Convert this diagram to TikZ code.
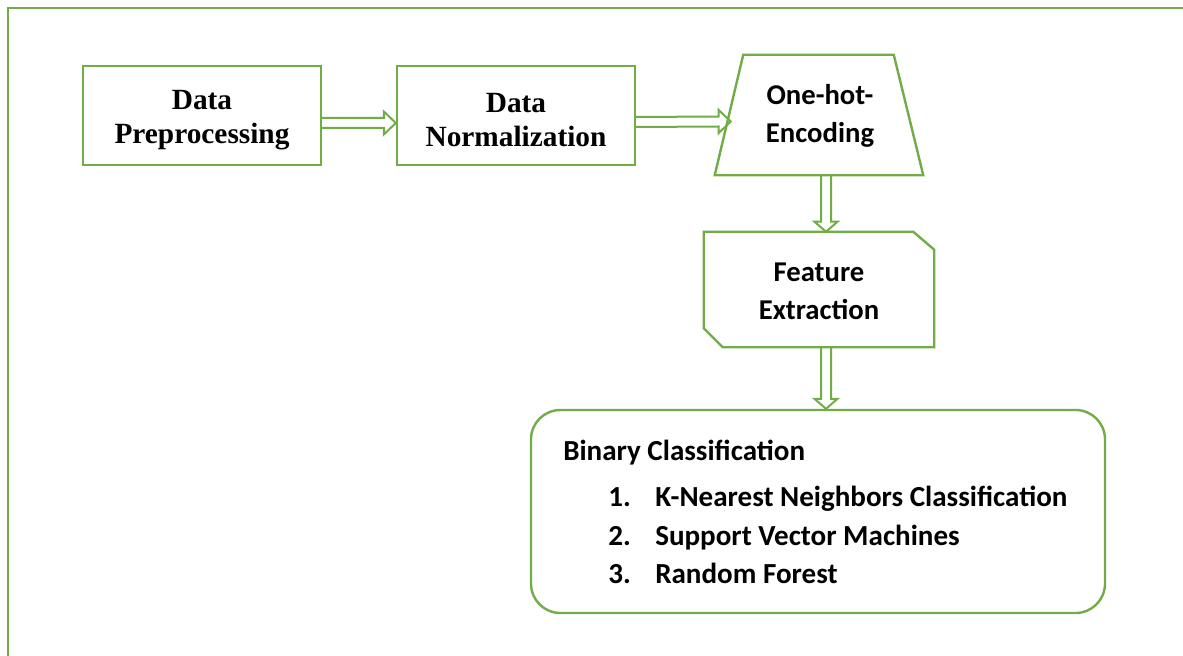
\documentclass[tikz,border=0pt]{standalone}
\usepackage{fontspec}
\setmainfont{Liberation Serif}
\newfontfamily\calib{Carlito}
\usetikzlibrary{calc}
\definecolor{grn}{HTML}{70AD47}
\newcommand\hconn[2]{\draw[conn] ($#1+(0,-5)$) -- ($#2+(-12,-5)$) -- ($#2+(-12,-11.5)$) -- #2 -- ($#2+(-12,11.5)$) -- ($#2+(-12,5)$) -- ($#1+(0,5)$);}
\newcommand\vconn[2]{\draw[conn] ($#1+(-5,0)$) -- ($#2+(-5,-10)$) -- ($#2+(-11.5,-10)$) -- #2 -- ($#2+(11.5,-10)$) -- ($#2+(5,-10)$) -- ($#1+(5,0)$);}
\begin{document}
\begin{tikzpicture}[x=0.75pt,y=-0.75pt,
  frame/.style={draw=grn,line width=1.6pt},
  box/.style={draw=grn,line width=1.8pt,align=center,inner sep=0pt},
  shp/.style={draw=grn,line width=1.8pt,line join=miter},
  conn/.style={draw=grn,line width=1.5pt,line join=miter},
  serif/.style={font=\bfseries\fontsize{22}{25.5}\selectfont},
  cal/.style={font=\calib\bfseries\fontsize{21.5}{28.5}\selectfont,align=center},
  lst/.style={font=\calib\bfseries\fontsize{21.8}{29}\selectfont,anchor=base west,inner sep=0pt}]
\useasboundingbox (0,0) rectangle (1183,656);
\draw[frame] (8,660) -- (8,8) -- (1190,8);
% boxes
\node[box,serif,minimum width=238*0.75pt,minimum height=99*0.75pt] (dp) at (202,115.5) {};
\node[serif,align=center] (dpt) at (202,120) {Data\\Preprocessing};
\node[box,serif,minimum width=238*0.75pt,minimum height=99*0.75pt] (dn) at (516,115.5) {};
\node[serif,align=center] (dnt) at (516,120) {Data\\Normalization};
\node[cal,minimum width=208*0.75pt,minimum height=120*0.75pt,inner sep=0pt] (oh) at (819,115) {};
\node[cal] (oht) at (820,116) {One-hot-\\Encoding};
\draw[shp] (oh.south west) -- ($(oh.north west)+(28.5,0)$) -- ($(oh.north east)+(-29.5,0)$) -- (oh.south east) -- cycle;
\node[cal,minimum width=230*0.75pt,minimum height=115*0.75pt,inner sep=0pt] (fe) at (819,289.5) {};
\node[cal] (fet) at (819,291.5) {Feature\\Extraction};
\draw[shp] (fe.north west) -- ($(fe.north east)+(-21,0)$) -- ($(fe.north east)+(0,18)$) -- (fe.south east) -- ($(fe.south west)+(19,0)$) -- ($(fe.south west)+(0,-19)$) -- cycle;
\node[draw=grn,line width=1.8pt,rounded corners=22pt,minimum width=574*0.75pt,minimum height=203*0.75pt] (bc) at (818,511.5) {};
\node[lst] (bt) at (563,460) {Binary Classification};
\node[lst] (n1) at (608,506) {1.};
\node[lst] (i1) at (655,506) {K-Nearest Neighbors Classification};
\node[lst] (n2) at (608,545) {2.};
\node[lst] (i2) at (655,545) {Support Vector Machines};
\node[lst] (n3) at (608,583) {3.};
\node[lst] (i3) at (655,583) {Random Forest};
% connectors
\coordinate (a1s) at ($(dp.east)+(0,7.5)$);
\coordinate (a1e) at ($(dn.west)+(0,7.5)$);
\hconn{(a1s)}{(a1e)}
\coordinate (a2s) at ($(dn.east)+(0,6.5)$);
\coordinate (a2e) at ($(oh.west)+(16,6.5)$);
\hconn{(a2s)}{(a2e)}
\coordinate (a3s) at ($(oh.south)+(7,0)$);
\coordinate (a3e) at ($(fe.north)+(7,0)$);
\vconn{(a3s)}{(a3e)}
\coordinate (a4s) at ($(fe.south)+(7,0)$);
\coordinate (a4e) at ($(bc.north)+(8,0)$);
\vconn{(a4s)}{(a4e)}
\end{tikzpicture}
\end{document}
